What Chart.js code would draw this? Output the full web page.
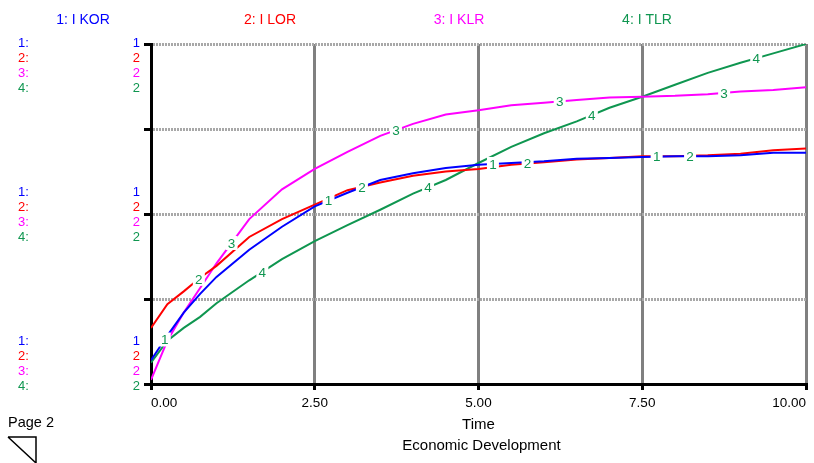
<!DOCTYPE html>
<html>
<head>
<meta charset="utf-8">
<script src="https://cdn.jsdelivr.net/npm/chart.js@4"></script>
<style>
  html, body { margin: 0; padding: 0; background: #fff; }
  canvas { display: block; }
</style>
</head>
<body>
<canvas id="chart" width="814" height="463" style="width:814px;height:463px"></canvas>
<script>
// time axis (years)
const time = [0, 0.25, 0.5, 0.75, 1, 1.5, 2, 2.5, 3, 3.5, 4, 4.5, 5, 5.5, 6, 6.5, 7, 7.5, 8, 8.5, 9, 9.5, 10];

// series in grid units (0 = bottom, 4 = top)
const iKOR = [0.28, 0.57, 0.84, 1.06, 1.26, 1.58, 1.85, 2.09, 2.25, 2.40, 2.48, 2.54, 2.58, 2.60, 2.62, 2.65, 2.66, 2.67, 2.68, 2.68, 2.69, 2.72, 2.72];
const iLOR = [0.66, 0.94, 1.09, 1.25, 1.39, 1.73, 1.94, 2.11, 2.28, 2.37, 2.45, 2.50, 2.53, 2.58, 2.61, 2.64, 2.66, 2.68, 2.68, 2.69, 2.71, 2.75, 2.77];
const iKLR = [0.05, 0.51, 0.84, 1.13, 1.42, 1.94, 2.29, 2.53, 2.73, 2.92, 3.06, 3.17, 3.22, 3.28, 3.31, 3.34, 3.37, 3.38, 3.39, 3.41, 3.44, 3.46, 3.49];
const iTLR = [0.25, 0.51, 0.66, 0.79, 0.95, 1.22, 1.47, 1.68, 1.87, 2.05, 2.24, 2.40, 2.60, 2.79, 2.95, 3.09, 3.25, 3.38, 3.52, 3.66, 3.78, 3.89, 4.00];

const seriesNames = ['1: I KOR', '2: I LOR', '3: I KLR', '4: I TLR'];
const seriesColors = ['#0000ff', '#ff0000', '#ff00ff', '#0f9650'];

// where the little 1/2/3/4 markers sit on the lines
const labelTimes = [0.21, 0.73, 1.23, 1.70, 2.71, 3.22, 3.74, 4.23, 5.22, 5.75, 6.24, 6.73, 7.72, 8.23, 8.75, 9.24];

// scale labels on the left (top, middle, bottom)
const scaleTop = ['1', '2', '2', '2'];
const scaleMid = ['1', '2', '2', '2'];
const scaleBot = ['1', '2', '2', '2'];

const FAMILY = 'Arial, "Liberation Sans", sans-serif';
const font = px => px + 'px ' + FAMILY;
const allSeries = [iKOR, iLOR, iKLR, iTLR];

function valueAt(arr, t) {
  for (let i = 1; i < time.length; i++) {
    if (t <= time[i]) {
      const f = (t - time[i - 1]) / (time[i] - time[i - 1]);
      return arr[i - 1] + f * (arr[i] - arr[i - 1]);
    }
  }
  return arr[arr.length - 1];
}

const lineLabels = {
  id: 'lineLabels',
  afterDatasetsDraw(chart) {
    const { ctx, scales: { x, y } } = chart;
    ctx.save();
    ctx.font = font(13.5);
    ctx.textAlign = 'center';
    ctx.textBaseline = 'middle';
    labelTimes.forEach((t, k) => {
      const s = k % 4;
      const px = x.getPixelForValue(t);
      const py = y.getPixelForValue(valueAt(allSeries[s], t));
      ctx.fillStyle = '#fff';
      ctx.fillRect(px - 6, py - 7, 12, 14);
      ctx.fillStyle = seriesColors[3];
      ctx.fillText(String(s + 1), px, py + 1);
    });
    ctx.restore();
  }
};

const decorations = {
  id: 'decorations',
  afterDraw(chart) {
    const { ctx, scales: { x, y } } = chart;
    ctx.save();
    ctx.textBaseline = 'middle';

    // header with series names
    const headX = [83, 270, 459, 647];
    ctx.font = font(14);
    ctx.textAlign = 'center';
    seriesNames.forEach((n, i) => {
      ctx.fillStyle = seriesColors[i];
      ctx.fillText(n, headX[i], 20);
    });

    // scale blocks on the left
    ctx.font = font(13);
    const groups = [
      { vals: scaleTop, y0: y.getPixelForValue(4) - 1 },
      { vals: scaleMid, y0: y.getPixelForValue(2) - 22 },
      { vals: scaleBot, y0: y.getPixelForValue(0) - 43 }
    ];
    groups.forEach(g => {
      for (let i = 0; i < 4; i++) {
        const yy = g.y0 + i * 15;
        ctx.fillStyle = seriesColors[i];
        ctx.textAlign = 'left';
        ctx.fillText((i + 1) + ':', 18, yy);
        ctx.textAlign = 'right';
        ctx.fillText(g.vals[i], 140, yy);
      }
    });

    // footer
    ctx.fillStyle = '#000';
    ctx.font = font(14.5);
    ctx.textAlign = 'left';
    ctx.fillText('Page 2', 8, 423);
    ctx.font = font(15);
    ctx.textAlign = 'center';
    ctx.fillText('Economic Development', x.getPixelForValue(5) + 3, 446);

    // page turn icon
    ctx.strokeStyle = '#000';
    ctx.lineWidth = 1.5;
    ctx.beginPath();
    ctx.moveTo(8, 437); ctx.lineTo(36, 437); ctx.lineTo(36, 463);
    ctx.moveTo(8, 437); ctx.lineTo(36, 463);
    ctx.stroke();
    ctx.restore();
  }
};

const mkData = arr => time.map((t, i) => ({ x: t, y: arr[i] }));

new Chart(document.getElementById('chart'), {
  type: 'line',
  data: {
    datasets: allSeries.map((arr, i) => ({
      label: seriesNames[i],
      data: mkData(arr),
      borderColor: seriesColors[i],
      borderWidth: 2,
      pointRadius: 0,
      tension: 0,
      fill: false
    }))
  },
  options: {
    responsive: false,
    animation: false,
    layout: { padding: { left: 0, right: 8, top: 44, bottom: 29 } },
    plugins: { legend: { display: false }, tooltip: { enabled: false } },
    scales: {
      x: {
        type: 'linear',
        min: 0,
        max: 10,
        afterFit: s => { s.height = 50; s.paddingLeft = 0; s.paddingRight = 0; },
        ticks: {
          stepSize: 2.5,
          align: 'inner',
          padding: 5,
          color: '#000',
          font: { family: FAMILY, size: 13.5 },
          callback: v => Number(v).toFixed(2)
        },
        grid: {
          color: c => (c.tick && c.tick.value === 0 ? 'rgba(0,0,0,0)' : '#808080'),
          lineWidth: 3,
          tickColor: '#000',
          tickWidth: 3,
          tickLength: 6
        },
        border: { color: '#000', width: 3 },
        title: {
          display: true,
          text: 'Time',
          color: '#000',
          padding: { top: 0, bottom: 0 },
          font: { family: FAMILY, size: 15 }
        }
      },
      y: {
        min: 0,
        max: 4,
        afterFit: s => { s.width = 151; },
        ticks: { display: false, stepSize: 1 },
        grid: {
          color: c => (c.tick && c.tick.value === 0 ? 'rgba(0,0,0,0)' : '#a8a8a8'),
          lineWidth: 3,
          tickColor: '#000',
          tickWidth: 3,
          tickLength: 7
        },
        border: { color: '#000', width: 3, dash: [2, 1] }
      }
    }
  },
  plugins: [lineLabels, decorations]
});
</script>
</body>
</html>
